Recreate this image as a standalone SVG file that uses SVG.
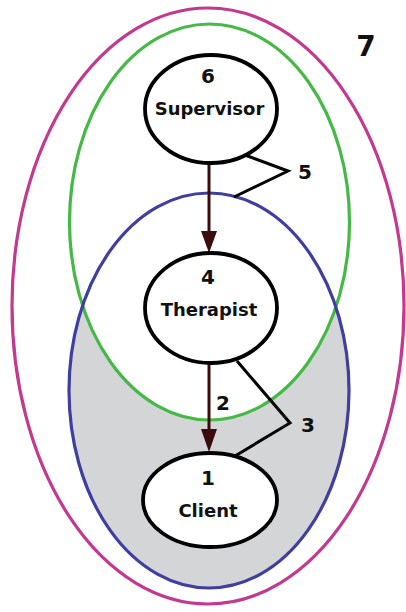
<svg xmlns="http://www.w3.org/2000/svg" width="406" height="612" viewBox="0 0 406 612">
  <style>
    .ring { fill: none; stroke-width: 3.2; }
    .node { fill: #ffffff; stroke: #000000; stroke-width: 3.8; }
    .lbl { font-family: "DejaVu Sans", Verdana, sans-serif; font-weight: bold; font-size: 18px; fill: #111111; text-anchor: middle; }
    .num { font-family: "DejaVu Sans", Verdana, sans-serif; font-weight: bold; font-size: 20px; fill: #111111; text-anchor: middle; }
    .arrow { stroke: #3a0c0c; stroke-width: 3; fill: none; }
    .head { fill: #3a0c0c; }
    .zig { stroke: #000000; stroke-width: 3; fill: none; stroke-linejoin: miter; }
  </style>
  <rect width="406" height="612" fill="#ffffff"/>
  <g id="regions">
    <ellipse cx="209" cy="390.5" rx="140" ry="197.5" fill="#d4d5d7"/>
    <ellipse cx="209.5" cy="222" rx="140" ry="198" fill="#ffffff"/>
    <ellipse id="ring7" class="ring" cx="208" cy="306" rx="196" ry="298" stroke="#c2398f"/>
    <ellipse id="ring-green" class="ring" cx="209.5" cy="222" rx="140" ry="198" stroke="#45b945"/>
    <ellipse id="ring-blue" class="ring" cx="209" cy="390.5" rx="140" ry="197.5" stroke="#3f3fa0"/>
    <text class="num" x="366" y="56" style="font-size:28px">7</text>
  </g>
  <g id="connectors">
    <line class="arrow" x1="209" y1="163" x2="209" y2="236"/>
    <polygon class="head" points="201,231 217,231 209,253"/>
    <line class="arrow" x1="209" y1="362" x2="209" y2="434"/>
    <polygon class="head" points="201,429 217,429 209,452"/>
    <polyline class="zig" points="245,155 288,171 234,197"/>
    <polyline class="zig" points="237,361 290,423 235,456"/>
    <text class="num" x="305" y="179">5</text>
    <text class="num" x="223" y="410">2</text>
    <text class="num" x="308" y="432">3</text>
  </g>
  <g id="supervisor">
    <ellipse class="node" cx="211" cy="109" rx="66" ry="54"/>
    <text class="num" x="208" y="83">6</text>
    <text class="lbl" x="209.5" y="115">Supervisor</text>
  </g>
  <g id="therapist">
    <ellipse class="node" cx="211" cy="308" rx="66" ry="55"/>
    <text class="num" x="208" y="284">4</text>
    <text class="lbl" x="209" y="316">Therapist</text>
  </g>
  <g id="client">
    <ellipse class="node" cx="210" cy="500" rx="67" ry="47"/>
    <text class="num" x="208" y="485">1</text>
    <text class="lbl" x="208" y="517">Client</text>
  </g>
</svg>
